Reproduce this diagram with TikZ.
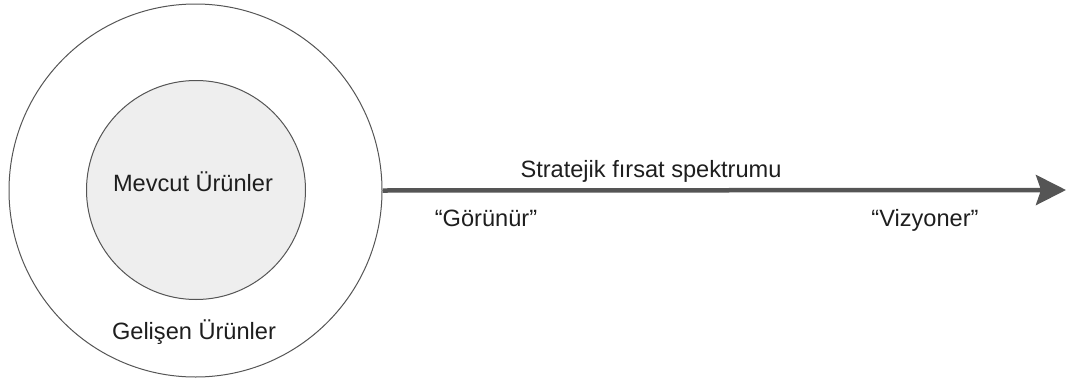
\documentclass[tikz,border=0pt]{standalone}
\usepackage{fontspec}
\setmainfont{Liberation Sans}
\usetikzlibrary{arrows.meta}
\definecolor{linegray}{HTML}{555555}
\definecolor{innerfill}{HTML}{EEEEEE}
\definecolor{textdark}{HTML}{1E1E1E}
\begin{document}
\begin{tikzpicture}[x=1pt,y=-1pt,
  ring/.style={circle,draw=linegray,line width=1pt,inner sep=0pt},
  label/.style={anchor=base,text=textdark,font=\fontsize{23.6}{28}\selectfont,inner sep=0pt},
  spectrum/.style={draw=linegray,line width=4.5pt,-{Stealth[length=30pt,width=30pt,inset=5pt]}}]
  \useasboundingbox (0,0) rectangle (1073,383);
  % outer and inner product rings
  \node[ring,minimum size=373pt] (outer) at (195.5,190.5) {};
  \node[ring,fill=innerfill,minimum size=219pt] (inner) at (196,190) {};
  \node[label] (current) at (193,191) {Mevcut Ürünler};
  \node[label] (emerging) at (194,339) {Gelişen Ürünler};
  % strategic opportunity spectrum
  \coordinate (tip) at (1066,190);
  \draw[spectrum] (outer.east) -- (tip);
  \node[label] (title) at (651,177) {Stratejik fırsat spektrumu};
  \node[label] (visible) at (486,226) {“Görünür”};
  \node[label] (visionary) at (925,226) {“Vizyoner”};
\end{tikzpicture}
\end{document}
